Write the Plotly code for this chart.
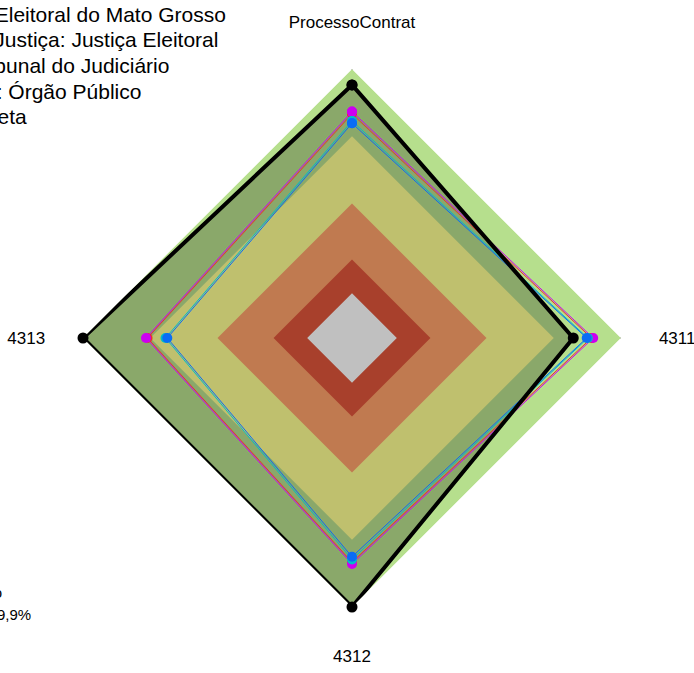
import plotly.graph_objects as go

# Radar axes (clockwise from the top)
CATEGORIES = ["ProcessoContrat", "4311", "4312", "4313"]

# Maturity bands: outer limit of each band and its colour
BAND_LIMITS = [1.0, 0.70, 0.40, 0.15, 0.0]
BAND_COLORS = ["#B6DF8D", "#BFC06E", "#C07A50", "#A8402C", "#C0C0C0"]
META_FILL = "#8AA86A"

# Series values, in the order of CATEGORIES
TRE_MT = [0.810, 0.876, 0.808, 0.719]
SEGMENTO = [0.800, 0.868, 0.800, 0.712]
TRIBUNAL_JUD = [0.768, 0.852, 0.788, 0.632]
ORGAO_PUBLICO = [0.758, 0.847, 0.776, 0.624]
META = [0.929, 0.787, 1.0, 1.0]

# Legend labels (one legend block per series)
NAMES = [
    "Tribunal Regional Eleitoral do Mato Grosso",
    "Por Segmento de Justiça: Justiça Eleitoral",
    "Por Segmento: Tribunal do Judiciário",
    "Por Tipo de Órgão: Órgão Público",
    "Valor Esperado: Meta",
]
COLORS = ["#CC00F0", "#E8322A", "#00BCC8", "#0A6CF5", "black"]
SUMMARY_LINES = ["Percentual de Atingimento", "da Meta pelo Tribunal: 99,9%"]

W, H = 694, 673
LEGEND_KEYS = ["legend", "legend2", "legend3", "legend4", "legend5"]
LEGEND_CENTERS_PX = [14, 39.5, 65, 91, 116.5]


def closed(values):
    return list(values) + [values[0]]


theta = closed(CATEGORIES)
fig = go.Figure()

# Outer band, then the target area, then the inner bands on top
fig.add_trace(go.Scatterpolar(
    r=closed([BAND_LIMITS[0]] * len(CATEGORIES)), theta=theta, mode="lines",
    fill="toself", fillcolor=BAND_COLORS[0], line=dict(width=0),
    showlegend=False, hoverinfo="skip"))
fig.add_trace(go.Scatterpolar(
    r=closed(META), theta=theta, mode="lines",
    fill="toself", fillcolor=META_FILL, line=dict(width=0),
    showlegend=False, hoverinfo="skip"))
for limit, color in zip(BAND_LIMITS[1:], BAND_COLORS[1:]):
    fig.add_trace(go.Scatterpolar(
        r=closed([limit] * len(CATEGORIES)), theta=theta, mode="lines",
        fill="toself", fillcolor=color, line=dict(width=0),
        showlegend=False, hoverinfo="skip"))

# Drawing order: lower series first so the marked ones sit on top
order = [1, 0, 2, 3]
series_values = [TRE_MT, SEGMENTO, TRIBUNAL_JUD, ORGAO_PUBLICO]
for i in order:
    fig.add_trace(go.Scatterpolar(
        r=closed(series_values[i]), theta=theta, mode="lines+markers",
        name=NAMES[i], legend=LEGEND_KEYS[i],
        line=dict(color=COLORS[i], width=1),
        marker=dict(color=COLORS[i], size=10)))

fig.add_trace(go.Scatterpolar(
    r=closed(META), theta=theta, mode="lines+markers", name=NAMES[4],
    legend=LEGEND_KEYS[4],
    line=dict(color=COLORS[4], width=4), marker=dict(color=COLORS[4], size=11)))

legend_x = -(170.4 + 44.5) / W
legends = {
    key: dict(x=legend_x, y=1 - cy / H, xanchor="left", yanchor="middle",
              bgcolor="rgba(0,0,0,0)", font=dict(size=21, color="black"))
    for key, cy in zip(LEGEND_KEYS, LEGEND_CENTERS_PX)
}

fig.update_layout(
    width=W, height=H,
    margin=dict(l=0, r=0, t=0, b=0, autoexpand=False),
    paper_bgcolor="white",
    font=dict(family="Arial, Liberation Sans, sans-serif", color="black"),
    polar=dict(
        domain=dict(x=[83 / W, 621 / W], y=[1 - 607 / H, 1 - 69 / H]),
        gridshape="linear",
        bgcolor="rgba(0,0,0,0)",
        radialaxis=dict(range=[-0.2, 1.0], visible=False, showgrid=False),
        angularaxis=dict(
            direction="clockwise", rotation=90,
            showline=False, showgrid=True, gridcolor="#A3A3A3", gridwidth=1,
            layer="above traces",
            ticks="outside", ticklen=34, tickcolor="rgba(0,0,0,0)",
            tickfont=dict(size=17, color="black"),
        ),
    ),
    annotations=[
        dict(text=SUMMARY_LINES[0], x=4 / W, y=1 - 592 / H,
             xref="paper", yref="paper", xanchor="right", yanchor="middle",
             showarrow=False, font=dict(size=15, color="black")),
        dict(text=SUMMARY_LINES[1], x=33 / W, y=1 - 614 / H,
             xref="paper", yref="paper", xanchor="right", yanchor="middle",
             showarrow=False, font=dict(size=15, color="black")),
    ],
    **legends,
)

fig.write_html("out.html")
